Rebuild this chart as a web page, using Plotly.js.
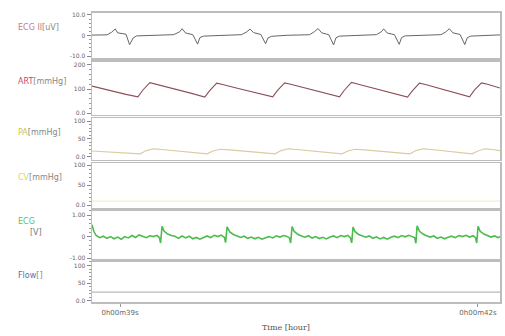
<!DOCTYPE html>
<html><head><meta charset="utf-8">
<script src="https://cdn.plot.ly/plotly-3.0.1.min.js"></script>
<style>html,body{margin:0;padding:0;background:#fff}#c{width:505px;height:336px}</style>
</head><body><div id="c"></div>
<script>
// ---- data (time in seconds) ----
const ecg2T = [38.765,38.89,38.93,38.96,38.98,39.02,39.05,39.08,39.11,39.14,39.25,39.40,
  39.45,39.50,39.52,39.55,39.58,39.61,39.65,39.67,39.70,39.82,39.98,
  40.02,40.06,40.09,40.12,40.15,40.18,40.22,40.24,40.27,40.40,40.55,
  40.59,40.63,40.66,40.69,40.72,40.75,40.79,40.81,40.84,40.97,41.12,
  41.15,41.19,41.21,41.24,41.27,41.30,41.34,41.36,41.39,41.52,41.66,
  41.69,41.73,41.76,41.79,41.82,41.85,41.89,41.91,41.94,42.05,42.185];
const ecg2V = [0.2,0.3,1.6,3.2,1.3,0.8,0.6,-4.5,-1.2,-0.2,0.1,0.3,
  0.4,1.8,3.3,1.2,0.9,0.4,-4.2,-1.0,-0.3,0.0,0.3,
  0.4,1.7,3.1,1.4,0.8,0.5,-4.0,-1.2,-0.4,0.1,0.3,
  0.4,1.9,3.4,1.3,0.7,0.4,-4.6,-1.1,-0.3,0.0,0.3,
  0.4,1.8,3.2,1.2,0.8,0.4,-4.3,-1.0,-0.2,0.1,0.3,
  0.4,1.7,3.3,1.3,0.8,0.5,-4.4,-1.1,-0.3,0.1,0.3];

const artT = [38.765,38.90,39.05,39.15,39.19,39.25,39.30,39.45,39.60,39.71,39.75,39.81,39.86,
  40.00,40.15,40.28,40.32,40.38,40.43,40.58,40.72,40.84,40.88,40.94,40.99,
  41.14,41.29,41.41,41.45,41.51,41.56,41.70,41.82,41.93,41.97,42.03,42.08,42.185];
const artV = [112,95,78,68,95,126,120,100,82,67,92,124,119,
  101,84,68,94,125,120,100,83,68,95,127,121,
  101,83,67,92,124,119,100,83,68,95,125,120,104];

const paT = [38.765,38.95,39.10,39.17,39.22,39.28,39.35,39.55,39.73,39.78,39.84,39.92,
  40.10,40.30,40.35,40.41,40.48,40.68,40.86,40.91,40.97,41.05,
  41.25,41.43,41.48,41.54,41.61,41.80,41.95,42.00,42.06,42.12,42.185];
const paV = [16,12,9,8,17,22,20,13,8,16,21,19,
  13,8,17,22,20,13,8,16,21,19,
  13,8,17,22,20,13,8,16,22,20,17];

const cvpT = [38.765,39.5,40.5,41.5,42.185];
const cvpV = [10,10,10,10,10];

const ecgT = [38.765,38.78,38.80,38.83,38.86,38.89,38.92,38.95,38.98,39.01,39.04,39.07,39.10,39.13,39.16,39.19,39.22,39.25,39.28,39.31,39.33,39.34,
  39.352,39.37,39.40,39.43,39.46,39.49,39.52,39.55,39.58,39.61,39.64,39.67,39.70,39.73,39.76,39.79,39.82,39.85,39.875,39.885,
  39.897,39.92,39.95,39.98,40.01,40.04,40.07,40.10,40.13,40.16,40.19,40.22,40.25,40.28,40.31,40.34,40.37,40.40,40.42,40.43,
  40.442,40.46,40.49,40.52,40.55,40.58,40.61,40.64,40.67,40.70,40.73,40.76,40.79,40.82,40.85,40.88,40.91,40.93,40.942,
  40.953,40.97,41.00,41.03,41.06,41.09,41.12,41.15,41.18,41.21,41.24,41.27,41.30,41.33,41.36,41.39,41.42,41.45,41.47,41.48,
  41.49,41.51,41.54,41.57,41.60,41.63,41.66,41.69,41.72,41.75,41.78,41.81,41.84,41.87,41.90,41.93,41.96,41.98,41.99,
  42.001,42.02,42.05,42.08,42.11,42.14,42.17,42.185];
const ecgV = [0.55,0.25,0.05,-0.05,0.02,-0.08,0.0,-0.1,-0.02,-0.12,0.0,-0.06,0.05,-0.04,0.08,0.02,-0.05,0.04,0.0,0.06,-0.05,-0.30,
  0.48,0.25,0.12,0.05,0.02,-0.08,0.03,-0.06,0.02,-0.10,-0.04,-0.12,-0.03,0.03,-0.05,0.06,0.0,0.07,-0.04,-0.28,
  0.46,0.22,0.10,0.04,-0.04,0.02,-0.08,-0.02,-0.10,-0.03,-0.12,-0.05,0.0,-0.06,0.04,-0.02,0.05,0.01,-0.06,-0.30,
  0.47,0.24,0.11,0.03,-0.03,0.04,-0.07,0.0,-0.09,-0.03,-0.11,-0.02,0.03,-0.05,0.05,0.0,0.06,-0.05,-0.29,
  0.45,0.23,0.10,0.04,-0.03,0.03,-0.08,-0.01,-0.11,-0.04,-0.12,-0.03,0.02,-0.05,0.05,-0.01,0.06,0.0,-0.06,-0.31,
  0.50,0.25,0.12,0.04,-0.02,0.03,-0.08,-0.02,-0.10,-0.03,0.02,-0.05,0.05,0.0,0.06,-0.02,0.04,-0.05,-0.30,
  0.48,0.24,0.12,0.05,-0.02,0.03,-0.05,0.0];

const flowT = [38.765,39.5,40.5,41.5,42.185];
const flowV = [25,25,25,25,25];

const xTickVals = [39,42];
const xTickText = ['0h00m39s','0h00m42s'];

const panels = [
  {name:'ECG II', unit:'[uV]', color:'#c27a8a', range:[-11,11], tv:[10,0,-10], tt:['10.0','0','-10.0'], minor:2},
  {name:'ART', unit:'[mmHg]', color:'#d2486a', range:[-7,212], tv:[200,100,0], tt:['200','100','0.0'], minor:20},
  {name:'PA', unit:'[mmHg]', color:'#c9c85a', range:[-9,108], tv:[100,50,0], tt:['100','50','0.0'], minor:10},
  {name:'CV', unit:'[mmHg]', color:'#d9d65c', range:[-7,105], tv:[100,50,0], tt:['100','50','0.0'], minor:10},
  {name:'ECG', unit:'[V]', color:'#5cc05c', range:[-1.05,1.2], tv:[1,0,-1], tt:['1.00','0','-1.00'], minor:0.2},
  {name:'Flow', unit:'[]', color:'#5a6ab8', range:[-3,110], tv:[100,50,0], tt:['100','50','0.0'], minor:10}
];
const domains = [[0.841,0.997],[0.645,0.828],[0.490,0.634],[0.324,0.479],[0.148,0.314],[0,0.138]];

const series = [
  [ecg2T, ecg2V, '#666666', 1],
  [artT, artV, '#8a5058', 1.1],
  [paT, paV, '#dccaa0', 1.1],
  [cvpT, cvpV, '#f2f0c4', 1.2],
  [ecgT, ecgV, '#4cbc4c', 1.6],
  [flowT, flowV, '#a8a8a8', 1]
];

const traces = series.map((s,i)=>({
  x:s[0], y:s[1], type:'scatter', mode:'lines',
  line:{color:s[2], width:s[3]},
  xaxis: i===0?'x':'x'+(i+1), yaxis: i===0?'y':'y'+(i+1),
  hoverinfo:'skip', showlegend:false
}));

const layout = {
  width:505, height:336,
  margin:{l:92,r:5,t:12,b:34},
  paper_bgcolor:'#fff', plot_bgcolor:'#fff',
  font:{family:'DejaVu Sans, sans-serif', size:7, color:'#777'},
  showlegend:false,
  annotations:[]
};
const gridCol = '#bdbdbd';
panels.forEach((p,i)=>{
  const xn = i===0?'xaxis':'xaxis'+(i+1);
  const yn = i===0?'yaxis':'yaxis'+(i+1);
  const last = i===panels.length-1;
  layout[xn] = {
    domain:[0,1], range:[38.765,42.185], anchor: i===0?'y':'y'+(i+1),
    showgrid:false, zeroline:false, showline:true, mirror:true,
    linecolor:gridCol, linewidth:1.5,
    showticklabels:last, ticks:last?'outside':'', ticklen:3, tickcolor:'#999',
    tickvals: xTickVals, ticktext: xTickText,
    tickfont:{size:7, color:'#666'}
  };
  if(i>0) layout[xn].matches='x';
  layout[yn] = {
    domain:domains[i], range:p.range, anchor: i===0?'x':'x'+(i+1),
    showgrid:false, zeroline:false, showline:true, mirror:true,
    linecolor:gridCol, linewidth:1.5,
    tickvals:p.tv, ticktext:p.tt, ticks:'outside', ticklen:4, tickcolor:'#888',
    minor:{ticks:'outside', ticklen:2, dtick:p.minor, tickcolor:'#999'},
    tickfont:{size:6, color:'#666'}
  };
});
const labelY = [0.948,0.759,0.583,0.431,0.279,0.090];
panels.forEach((p,i)=>{
  if(p.name==='ECG'){
    layout.annotations.push({xref:'paper',yref:'paper',x:-0.186,y:0.279,xanchor:'left',yanchor:'middle',
      text:'<span style="color:'+p.color+'">'+p.name+'</span>', showarrow:false, font:{size:8, family:'DejaVu Sans'}});
    layout.annotations.push({xref:'paper',yref:'paper',x:-0.157,y:0.238,xanchor:'left',yanchor:'middle',
      text:'<span style="color:#777">'+p.unit+'</span>', showarrow:false, font:{size:8, family:'DejaVu Sans'}});
  } else {
    layout.annotations.push({xref:'paper',yref:'paper',x:-0.186,y:labelY[i],xanchor:'left',yanchor:'middle',
      text:'<span style="color:'+p.color+'">'+p.name+'</span><span style="color:#888">'+p.unit+'</span>',
      showarrow:false, font:{size:8, family:'DejaVu Sans'}});
  }
});
layout.annotations.push({xref:'paper',yref:'paper',x:0.475,y:-0.088,xanchor:'center',yanchor:'middle',
  text:'Time [hour]', showarrow:false, font:{size:8, color:'#555', family:'DejaVu Serif'}});

Plotly.newPlot('c', traces, layout, {staticPlot:true, displayModeBar:false});
</script></body></html>
